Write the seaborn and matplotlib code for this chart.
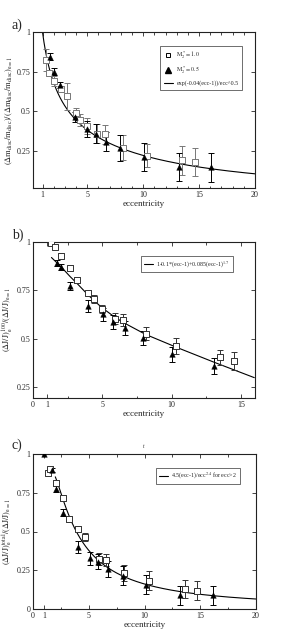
import numpy as np
import pandas as pd
import matplotlib
matplotlib.use("Agg")
import matplotlib.pyplot as plt
import seaborn as sns
from matplotlib.lines import Line2D
from matplotlib.ticker import FixedLocator

# ---------------- data ----------------
# panel a
a_sq_x = [1.3, 1.57, 2.0, 2.64, 3.2, 4.0, 4.36, 5.0, 5.9, 6.56, 8.17, 10.3, 13.5, 14.6]
a_sq_y = [0.824, 0.742, 0.69, 0.64, 0.595, 0.487, 0.445, 0.406, 0.358, 0.354, 0.27, 0.22, 0.19, 0.178]
a_sq_e = [0.07, 0.02, 0.03, 0.02, 0.085, 0.03, 0.04, 0.05, 0.06, 0.06, 0.08, 0.07, 0.09, 0.09]
a_tr_x = [1.65, 2.0, 2.58, 3.95, 5.0, 5.8, 6.65, 7.96, 10.05, 13.2, 16.06]
a_tr_y = [0.845, 0.75, 0.665, 0.462, 0.388, 0.356, 0.307, 0.267, 0.212, 0.148, 0.146]
a_tr_e = [0.02, 0.02, 0.02, 0.03, 0.05, 0.06, 0.06, 0.08, 0.09, 0.09, 0.09]
a_fit = (0.04, 0.5)          # exp(-k(ecc-1))/ecc^p

# panel b
b_sq_x = [1.33, 1.57, 2.05, 2.67, 3.19, 3.98, 4.38, 4.95, 5.88, 6.5, 8.12, 10.33, 13.48, 14.48]
b_sq_y = [0.995, 0.972, 0.929, 0.865, 0.804, 0.738, 0.704, 0.653, 0.605, 0.596, 0.527, 0.463, 0.404, 0.386]
b_sq_e = [0.005, 0.01, 0.012, 0.015, 0.015, 0.015, 0.02, 0.02, 0.03, 0.03, 0.035, 0.04, 0.04, 0.045]
b_tr_x = [1.74, 2.05, 2.64, 3.95, 5.05, 5.76, 6.64, 7.93, 10.02, 13.07]
b_tr_y = [0.89, 0.87, 0.773, 0.67, 0.626, 0.588, 0.555, 0.504, 0.42, 0.36]
b_tr_e = [0.015, 0.015, 0.02, 0.03, 0.035, 0.035, 0.035, 0.035, 0.04, 0.04]
b_line_x = [1.33, 2.05, 2.67, 3.19, 3.98, 4.95, 5.88, 6.5, 8.12, 10.33, 13.07, 15.95]
b_line_y = [0.920, 0.870, 0.822, 0.785, 0.726, 0.662, 0.613, 0.585, 0.523, 0.457, 0.379, 0.30]

# panel c
c_sq_x = [1.35, 1.56, 2.1, 2.7, 3.23, 4.0, 4.7, 5.9, 6.59, 8.2, 10.42, 13.65, 14.67]
c_sq_y = [0.876, 0.903, 0.815, 0.717, 0.582, 0.517, 0.463, 0.322, 0.318, 0.232, 0.182, 0.129, 0.118]
c_sq_e = [0.01, 0.01, 0.02, 0.02, 0.02, 0.02, 0.025, 0.04, 0.04, 0.05, 0.06, 0.06, 0.06]
c_tr_x = [1.02, 1.7, 2.04, 2.66, 4.0, 5.09, 5.84, 6.74, 8.05, 10.12, 13.17, 16.17]
c_tr_y = [1.0, 0.897, 0.773, 0.622, 0.40, 0.326, 0.305, 0.258, 0.215, 0.157, 0.088, 0.088]
c_tr_e = [0.0, 0.01, 0.02, 0.02, 0.04, 0.04, 0.05, 0.05, 0.06, 0.06, 0.06, 0.06]
c_fit = (4.5, 2.4)           # A(ecc-1)/ecc^p for ecc>2

# ---------------- style ----------------
sns.set_theme(style="ticks")
plt.rcParams['font.family'] = ['Liberation Serif', 'DejaVu Serif']
plt.rcParams['mathtext.fontset'] = 'stix'
plt.rcParams['xtick.direction'] = 'in'
plt.rcParams['ytick.direction'] = 'in'

fig = plt.figure(figsize=(2.88, 6.43), dpi=100)
W, H = 288.0, 643.0

def make_ax(left, right, top, bottom):
    return fig.add_axes([left / W, 1 - bottom / H, (right - left) / W, (bottom - top) / H])

axA = make_ax(33, 255, 32, 188)
axB = make_ax(33, 255, 242, 398)
axC = make_ax(33, 256, 454, 609)

SQ_GRAY = '#777777'

def draw_points(ax, x, y, e, kind, ecol):
    df = pd.DataFrame({'x': x, 'y': y})
    ax.errorbar(x, y, yerr=e, fmt='none', ecolor=ecol, elinewidth=0.7,
                capsize=2.0, capthick=0.7, zorder=2)
    if kind == 'sq':
        sns.scatterplot(data=df, x='x', y='y', ax=ax, marker='s', s=14,
                        facecolor='white', edgecolor=ecol, linewidth=0.7, zorder=3)
    else:
        sns.scatterplot(data=df, x='x', y='y', ax=ax, marker='^', s=16,
                        color='black', edgecolor='black', linewidth=0.3, zorder=3)

def style_ax(ax, xlim, ylim, xmajor, xminor, yticks, ylabels, xlabels):
    ax.set_xlim(*xlim)
    ax.set_ylim(*ylim)
    ax.xaxis.set_major_locator(FixedLocator(xmajor))
    ax.xaxis.set_minor_locator(FixedLocator(xminor))
    ax.set_xticklabels(xlabels)
    ax.yaxis.set_major_locator(FixedLocator(yticks))
    ax.set_yticklabels(ylabels)
    ax.tick_params(which='both', top=True, right=True, labelsize=5.8, width=0.6, pad=2)
    ax.tick_params(which='major', length=3)
    ax.tick_params(which='minor', length=1.8)
    for s in ax.spines.values():
        s.set_linewidth(0.8)
        s.set_color('#222222')
    ax.set_xlabel('eccentricity', fontsize=6.5, labelpad=1)

LEG_FS = 4.3

# ---- panel a ----
ea = np.linspace(1.0, 20.0, 300)
fa = np.exp(-a_fit[0] * (ea - 1)) / ea ** a_fit[1]
sns.lineplot(x=ea, y=fa, ax=axA, color='black', linewidth=0.8, zorder=1)
draw_points(axA, a_sq_x, a_sq_y, a_sq_e, 'sq', SQ_GRAY)
draw_points(axA, a_tr_x, a_tr_y, a_tr_e, 'tr', 'black')
style_ax(axA, (0.15, 20), (0.015, 1.0), [1, 5, 10, 15, 20],
         [2, 3, 4, 6, 7, 8, 9, 11, 12, 13, 14, 16, 17, 18, 19],
         [0.25, 0.5, 0.75, 1.0], ['0.25', '0.5', '0.75', '1'],
         ['1', '5', '10', '15', '20'])
axA.set_ylabel(r'$(\Delta \mathrm{m}_{\rm disc}/\mathrm{m}_{\rm disc})/(\Delta \mathrm{m}_{\rm disc}/\mathrm{m}_{\rm disc})_{\rm e=1}$',
               fontsize=6, labelpad=1)
hA = [Line2D([], [], marker='s', ls='none', mfc='white', mec='black', ms=3.5, mew=0.7,
             label=r'$\mathrm{M_2^*= 1.0}$'),
      Line2D([], [], marker='^', ls='none', color='black', ms=3.8,
             label=r'$\mathrm{M_2^*= 0.5}$'),
      Line2D([], [], color='black', lw=0.8, label='exp(-0.04(ecc-1))/ecc^0.5')]
legA = axA.legend(handles=hA, loc='upper right', bbox_to_anchor=(0.955, 0.93),
                  fontsize=LEG_FS, frameon=True, fancybox=False, edgecolor='black',
                  handlelength=1.5, borderpad=0.6, labelspacing=0.7, handletextpad=0.6)
legA.get_frame().set_linewidth(0.5)

# ---- panel b ----
sns.lineplot(x=b_line_x, y=b_line_y, ax=axB, color='black', linewidth=0.8, zorder=1)
draw_points(axB, b_sq_x, b_sq_y, b_sq_e, 'sq', '#333333')
draw_points(axB, b_tr_x, b_tr_y, b_tr_e, 'tr', 'black')
style_ax(axB, (0, 16), (0.195, 1.0), [0, 1, 5, 10, 15], [2.5, 7.5, 12.5],
         [0.25, 0.5, 0.75, 1.0], ['0.25', '0.5', '0.75', '1'],
         ['0', '1', '5', '10', '15'])
axB.set_ylabel(r'$(\Delta \mathrm{J/J})_{\rm e}^{\rm 100}/(\Delta \mathrm{J/J})_{\rm e=1}$',
               fontsize=6, labelpad=1)
hB = [Line2D([], [], color='black', lw=0.8, label=r'1-0.1*(ecc-1)+0.085(ecc-1)$^{1.7}$')]
legB = axB.legend(handles=hB, loc='upper right', bbox_to_anchor=(0.914, 0.93),
                  fontsize=LEG_FS, frameon=True, fancybox=False, edgecolor='black',
                  handlelength=1.5, borderpad=0.5, handletextpad=0.6)
legB.get_frame().set_linewidth(0.5)

# ---- panel c ----
ec = np.linspace(2.0, 20.0, 300)
fc = c_fit[0] * (ec - 1) / ec ** c_fit[1]
sns.lineplot(x=ec, y=fc, ax=axC, color='black', linewidth=0.8, zorder=1)
draw_points(axC, c_sq_x, c_sq_y, c_sq_e, 'sq', '#333333')
draw_points(axC, c_tr_x, c_tr_y, c_tr_e, 'tr', 'black')
style_ax(axC, (0, 20), (0, 1.0), [0, 1, 5, 10, 15, 20], [2.5, 7.5, 12.5, 17.5],
         [0, 0.25, 0.5, 0.75, 1.0], ['0', '0.25', '0.5', '0.75', '1'],
         ['0', '1', '5', '10', '15', '20'])
axC.set_ylabel(r'$(\Delta \mathrm{J/J})_{\rm e}^{\rm total}/(\Delta \mathrm{J/J})_{\rm e=1}$',
               fontsize=6, labelpad=1)
hC = [Line2D([], [], color='black', lw=0.8, label=r'4.5(ecc-1)/ecc$^{2.4}$ for ecc>2')]
legC = axC.legend(handles=hC, loc='upper right', bbox_to_anchor=(0.941, 0.929),
                  fontsize=LEG_FS, frameon=True, fancybox=False, edgecolor='black',
                  handlelength=1.5, borderpad=0.5, handletextpad=0.6)
legC.get_frame().set_linewidth(0.5)

# panel letters
fig.text(12 / W, 1 - 25 / H, 'a)', fontsize=10, va='center')
fig.text(12 / W, 1 - 235 / H, 'b)', fontsize=10, va='center')
fig.text(12 / W, 1 - 445 / H, 'c)', fontsize=10, va='center')
fig.text(143 / W, 1 - 447 / H, 't', fontsize=4, style='italic', va='center')

fig.savefig('out.png', dpi=100)
